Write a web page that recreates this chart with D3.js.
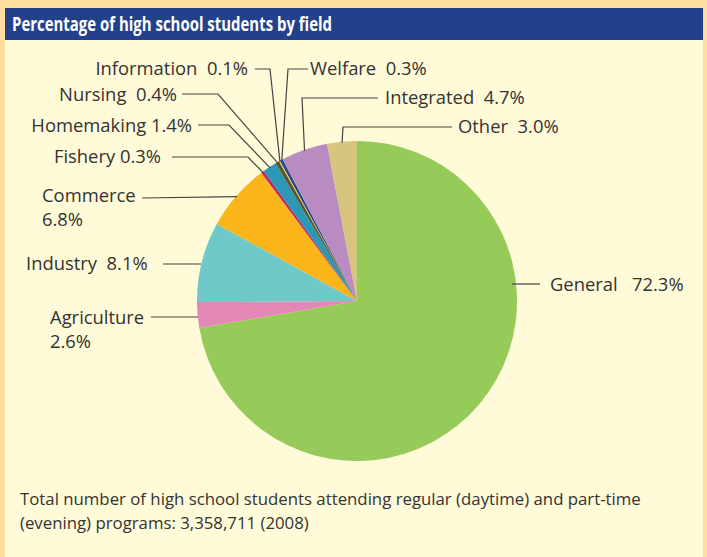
<!DOCTYPE html>
<html>
<head>
<meta charset="utf-8">
<script src="https://cdn.jsdelivr.net/npm/d3@7"></script>
<style>
  body { margin: 0; background: #fedd9e; }
  svg { display: block; }
  text { font-family: "Open Sans", sans-serif; fill: #333; }
</style>
</head>
<body>
<svg id="chart" width="707" height="557"></svg>
<script>
// data, clockwise from 12 o'clock
const fields = ["General", "Agriculture", "Industry", "Commerce", "Fishery", "Homemaking",
    "Nursing", "Information", "Welfare", "Integrated", "Other"];
const shares = [72.3, 2.6, 8.1, 6.8, 0.3, 1.4, 0.4, 0.1, 0.3, 4.7, 3.0];
const colors = ["#96cb5a", "#e387b7", "#6ec9c8", "#fbb51a", "#c0226d", "#2b98b6",
    "#5c5538", "#fde914", "#22479b", "#b98cc1", "#d6c47f"];
const labelText = ["General   72.3%", "Agriculture|2.6%", "Industry  8.1%", "Commerce|6.8%",
    "Fishery 0.3%", "Homemaking 1.4%", "Nursing  0.4%", "Information  0.1%", "Welfare  0.3%",
    "Integrated  4.7%", "Other  3.0%"];

// label placement: leader elbow/end points and text position
const labelLayout = {
    General:     { pts: [[540, 284]], from: [512, 284], x: 550, y: 291, anchor: "start" },
    Agriculture: { pts: [[151, 317]], from: [198, 317], x: 50, y: 324, anchor: "start" },
    Industry:    { pts: [[163, 264]], from: [201, 264], x: 26, y: 270, anchor: "start" },
    Commerce:    { pts: [[142, 198]], x: 42, y: 202, anchor: "start" },
    Fishery:     { pts: [[248, 157], [172, 157]], x: 161, y: 163, anchor: "end" },
    Homemaking:  { pts: [[229, 125], [198, 125]], x: 192, y: 132, anchor: "end" },
    Nursing:     { pts: [[218, 94], [182, 94]], x: 177, y: 101, anchor: "end" },
    Information: { pts: [[270, 69], [255, 69]], x: 248, y: 75, anchor: "end" },
    Welfare:     { pts: [[288, 69], [308, 69]], x: 310, y: 75, anchor: "start" },
    Integrated:  { pts: [[302, 98], [378, 98]], x: 385, y: 104, anchor: "start" },
    Other:       { pts: [[343, 127], [452, 127]], x: 458, y: 133, anchor: "start" }
};

const width = 707, height = 557;
const cx = 357, cy = 301, r = 160;

const svg = d3.select("#chart");

// panel
svg.append("rect").attr("x", 5).attr("y", 8).attr("width", 698).attr("height", height - 8)
    .attr("fill", "#fffad8");
svg.append("rect").attr("x", 5).attr("y", 8).attr("width", 698).attr("height", 32)
    .attr("fill", "#23418b");
svg.append("text").attr("x", 12).attr("y", 31)
    .attr("textLength", 320).attr("lengthAdjust", "spacingAndGlyphs")
    .style("fill", "#fff").style("font-weight", "bold").style("font-size", "20px")
    .text("Percentage of high school students by field");

const rows = fields.map((f, i) => ({ field: f, value: shares[i], color: colors[i], label: labelText[i] }));

const pie = d3.pie().sort(null).value(d => d.value);
const arc = d3.arc().innerRadius(0).outerRadius(r);
const arcs = pie(rows);

const g = svg.append("g").attr("transform", `translate(${cx},${cy})`);
g.selectAll("path")
    .data(arcs)
    .join("path")
    .attr("d", arc)
    .attr("fill", d => d.data.color);

// leader lines
const edge = d => {
    const a = (d.startAngle + d.endAngle) / 2;
    return [cx + (r - 1) * Math.sin(a), cy - (r - 1) * Math.cos(a)];
};
const line = d3.line();
svg.append("g")
    .selectAll("path")
    .data(arcs)
    .join("path")
    .attr("d", d => {
        const L = labelLayout[d.data.field];
        return line([L.from || edge(d), ...L.pts]);
    })
    .attr("fill", "none")
    .attr("stroke", "#444")
    .attr("stroke-width", 1.2);

// labels
const lbl = svg.append("g").style("font-size", "18.4px")
    .selectAll("text")
    .data(arcs)
    .join("text")
    .attr("x", d => labelLayout[d.data.field].x)
    .attr("y", d => labelLayout[d.data.field].y)
    .attr("text-anchor", d => labelLayout[d.data.field].anchor)
    .style("white-space", "pre");
lbl.each(function (d) {
    const parts = d.data.label.split("|");
    const t = d3.select(this);
    parts.forEach((p, i) => {
        t.append("tspan")
            .attr("x", labelLayout[d.data.field].x)
            .attr("dy", i ? 24 : 0)
            .text(p);
    });
});

// footnote
const note = svg.append("text").attr("x", 20).attr("y", 505).style("font-size", "16.8px");
note.append("tspan").attr("x", 20).text("Total number of high school students attending regular (daytime) and part-time");
note.append("tspan").attr("x", 20).attr("dy", 24).text("(evening) programs: 3,358,711 (2008)");
</script>
</body>
</html>
